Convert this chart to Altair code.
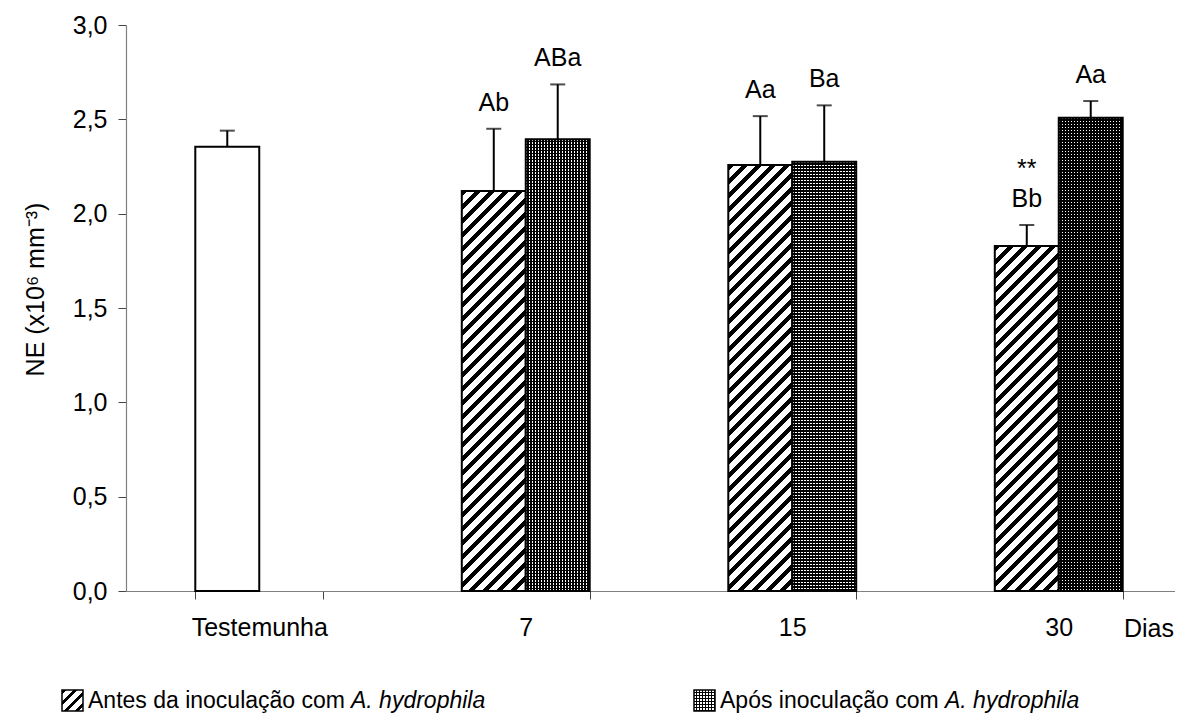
import altair as alt
import pandas as pd

# ---------------- data ----------------
categories = ["Testemunha", "7", "15", "30"]
series = ["antes", "apos"]

bar_cat = ["Testemunha", "7", "7", "15", "15", "30", "30"]
bar_series = ["antes", "antes", "apos", "antes", "apos", "antes", "apos"]
bar_value = [2.355, 2.12, 2.395, 2.258, 2.275, 1.828, 2.508]
bar_upper = [2.44, 2.45, 2.685, 2.517, 2.574, 1.94, 2.597]
bar_label = ["", "Ab", "ABa", "Aa", "Ba", "Bb", "Aa"]
bar_star = ["", "", "", "", "", "**", ""]
bar_style = ["control", "hatch", "dots", "hatch", "dots", "hatch", "dots"]

y_ticks = [0.0, 0.5, 1.0, 1.5, 2.0, 2.5, 3.0]
y_title = "NE (x10\u2076 mm\u207b\u00b3)"
x_unit = "Dias"
legend_plain = ["Antes da inoculação com ", "Após inoculação com "]
legend_italic = "A. hydrophila"

# ---------------- layout / style ----------------
FONT = "Liberation Sans"
FS = 25
LFS = 23
W = 1049          # visible plot width
RANGE_W = 1066    # x scale range (axis runs off the right edge like the reference)
H = 566
Y_MAX = 3.0
BAR_W = RANGE_W / 4 * 0.48 / 2

df = pd.DataFrame({
    "cat": bar_cat, "series": bar_series, "value": bar_value,
    "upper": bar_upper, "label": bar_label, "star": bar_star, "style": bar_style,
})


def hatch(w, h, period=14.0, frac=0.42):
    """Diagonal '/' stripes as a hard-stop linear gradient (bbox units)."""
    L = w + h
    k = L / (w * w + h * h)
    stops = []
    i = 0
    while i * period / L < 1:
        t0 = i * period / L
        t1 = min((i * period + period * frac) / L, 1.0)
        t2 = min((i + 1) * period / L, 1.0)
        stops += [
            {"offset": t0, "color": "black"},
            {"offset": t1, "color": "black"},
            {"offset": t1, "color": "white"},
            {"offset": t2, "color": "white"},
        ]
        i += 1
    return {"gradient": "linear", "x1": 0, "y1": 0, "x2": k * w, "y2": k * h, "stops": stops}


def stripes(length, horizontal, c_on, c_off, period=3.0, frac=0.5):
    """Fine straight stripes (for the dotted fill)."""
    stops = []
    i = 0
    while i * period / length < 1:
        t0 = i * period / length
        t1 = min((i * period + period * frac) / length, 1.0)
        t2 = min((i + 1) * period / length, 1.0)
        stops += [
            {"offset": t0, "color": c_on},
            {"offset": t1, "color": c_on},
            {"offset": t1, "color": c_off},
            {"offset": t2, "color": c_off},
        ]
        i += 1
    if horizontal:
        return {"gradient": "linear", "x1": 0, "y1": 0, "x2": 1, "y2": 0, "stops": stops}
    return {"gradient": "linear", "x1": 0, "y1": 0, "x2": 0, "y2": 1, "stops": stops}


x_axis = alt.Axis(
    title=None, tickBand="extent", labelAngle=0, labelFontSize=FS, labelFont=FONT,
    labelColor="black", labelPadding=16, tickSize=8, tickColor="#444444",
    domainColor="#808080", domainWidth=1.2, grid=False,
)
y_axis = alt.Axis(
    values=y_ticks, labelExpr="replace(format(datum.value, '.1f'), '.', ',')",
    labelFontSize=FS, labelFont=FONT, labelColor="black", labelPadding=11,
    tickSize=8, tickColor="#444444", domainColor="#808080", domainWidth=1.2,
    grid=False, title=y_title, titleFont=FONT, titleFontSize=25,
    titleFontWeight="normal", titleColor="black", titleAngle=270,
    titleBaseline="middle", titleAlign="center", titleX=-91, titleY=264,
)

x_scale = alt.Scale(domain=categories, range=[0, RANGE_W], paddingInner=0.52, paddingOuter=0.26)
xo_scale = alt.Scale(domain=series, paddingInner=0, paddingOuter=0)
y_scale = alt.Scale(domain=[0, Y_MAX], nice=False, zero=True)


def X():
    return alt.X("cat:N", scale=x_scale, axis=x_axis, sort=categories)


def XO():
    return alt.XOffset("series:N", scale=xo_scale)


def Y(field):
    return alt.Y(f"{field}:Q", scale=y_scale, axis=y_axis, title=y_title)


base = alt.Chart(df)
layers = []

# control (white) bar
layers.append(
    base.transform_filter(alt.datum.style == "control")
    .mark_bar(fill="white", stroke="black", strokeWidth=2)
    .encode(x=X(), xOffset=XO(), y=Y("value"))
)

for c, s, v, st in zip(bar_cat, bar_series, bar_value, bar_style):
    h = v / Y_MAX * H
    sel = base.transform_filter((alt.datum.cat == c) & (alt.datum.series == s))
    if st == "hatch":
        # hatched bars, one gradient per bar so the stripes stay at 45 degrees
        layers.append(
            sel.mark_bar(fill=hatch(BAR_W, h), stroke="black", strokeWidth=2)
            .encode(x=X(), xOffset=XO(), y=Y("value"))
        )
    elif st == "dots":
        # dotted bars: white/black horizontal stripes crossed by black vertical stripes
        layers.append(
            sel.mark_bar(fill=stripes(h, False, "white", "black"), strokeWidth=0)
            .encode(x=X(), xOffset=XO(), y=Y("value"))
        )
        layers.append(
            sel.mark_bar(fill=stripes(BAR_W, True, "rgba(0,0,0,0)", "black"),
                         stroke="black", strokeWidth=2)
            .encode(x=X(), xOffset=XO(), y=Y("value"))
        )

# error bars
layers.append(
    base.mark_rule(color="black", strokeWidth=2)
    .encode(x=X(), xOffset=XO(), y=Y("value"), y2="upper:Q")
)
layers.append(
    base.mark_tick(color="black", thickness=2, size=15, orient="horizontal")
    .encode(x=X(), xOffset=XO(), y=Y("upper"))
)

# letters above error bars
layers.append(
    base.mark_text(font=FONT, fontSize=FS, baseline="alphabetic", dy=-18, color="black")
    .encode(x=X(), xOffset=XO(), y=Y("upper"), text="label:N")
)
layers.append(
    base.mark_text(font=FONT, fontSize=FS, baseline="alphabetic", dy=-48, color="black")
    .encode(x=X(), xOffset=XO(), y=Y("upper"), text="star:N")
)

# "Dias" unit label at the right end of the x axis
one = alt.Chart(pd.DataFrame({"k": [0]}))
layers.append(
    one.mark_text(font=FONT, fontSize=FS, align="left", baseline="alphabetic", color="black")
    .encode(x=alt.value(998), y=alt.value(612), text=alt.value(x_unit))
)

# custom legend (below the plot)
layers.append(
    one.mark_rect(fill=hatch(21, 21, period=11, frac=0.42), stroke="black", strokeWidth=1.5)
    .encode(x=alt.value(-64), x2=alt.value(-43), y=alt.value(665), y2=alt.value(686))
)
layers.append(
    one.mark_rect(fill=stripes(21, False, "white", "black"), strokeWidth=0)
    .encode(x=alt.value(568), x2=alt.value(589), y=alt.value(665), y2=alt.value(686))
)
layers.append(
    one.mark_rect(fill=stripes(21, True, "rgba(0,0,0,0)", "black"),
                  stroke="black", strokeWidth=1.5)
    .encode(x=alt.value(568), x2=alt.value(589), y=alt.value(665), y2=alt.value(686))
)
legend_pos = [(-38, 225), (594, 819)]
for (xp, xi), txt in zip(legend_pos, legend_plain):
    layers.append(
        one.mark_text(font=FONT, fontSize=LFS, align="left", baseline="alphabetic", color="black")
        .encode(x=alt.value(xp), y=alt.value(683), text=alt.value(txt))
    )
    layers.append(
        one.mark_text(font=FONT, fontSize=LFS, fontStyle="italic", align="left",
                      baseline="alphabetic", color="black")
        .encode(x=alt.value(xi), y=alt.value(683), text=alt.value(legend_italic))
    )

chart = (
    alt.layer(*layers)
    .properties(
        width=W, height=H,
        padding={"left": 118, "top": 17, "right": 0, "bottom": 123},
        autosize=alt.AutoSizeParams(type="none"),
        background="white",
    )
    .configure_view(stroke=None)
)

chart.save("out.html", embed_options={"renderer": "svg", "actions": False})
